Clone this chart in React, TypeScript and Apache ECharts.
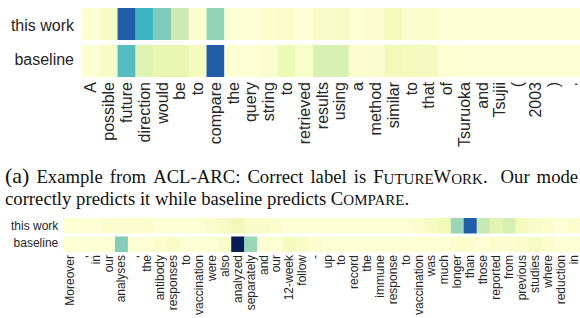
import React, { useEffect, useRef } from "react";
import * as echarts from "echarts";

const rowLabels = ["this work", "baseline"];

const topWords = ["A", "possible", "future", "direction", "would", "be", "to", "compare", "the", "query", "string", "to", "retrieved", "results", "using", "a", "method", "similar", "to", "that", "of", "Tsuruoka", "and", "Tsujii", "(", "2003", ")", "."];
const topThisWork = [0.02, 0.07, 0.75, 0.51, 0.38, 0.235, 0.03, 0.34, 0.02, 0.02, 0.03, 0.045, 0.015, 0.05, 0.055, 0.025, 0.03, 0.09, 0.045, 0.045, 0.02, 0.02, 0.02, 0.02, 0.02, 0.02, 0.02, 0.02];
const topBaseline = [0.02, 0.06, 0.46, 0.17, 0.14, 0.14, 0.08, 0.75, 0.02, 0.02, 0.03, 0.11, 0.04, 0.19, 0.19, 0.03, 0.035, 0.1, 0.09, 0.085, 0.025, 0.02, 0.02, 0.02, 0.02, 0.02, 0.02, 0.02];

const botWords = ["Moreover", ",", "in", "our", "analyses", ",", "the", "antibody", "responses", "to", "vaccination", "were", "also", "analyzed", "separately", "and", "our", "12-week", "follow", "-", "up", "to", "record", "the", "immune", "response", "to", "vaccination", "was", "much", "longer", "than", "those", "reported", "from", "previous", "studies", "where", "reduction", "in"];
const botThisWork = [0.02, 0.02, 0.01, 0.03, 0.03, 0.03, 0.03, 0.02, 0.02, 0.02, 0.02, 0.04, 0.06, 0.1, 0.05, 0.05, 0.03, 0.02, 0.02, 0.02, 0.02, 0.02, 0.02, 0.02, 0.02, 0.02, 0.02, 0.03, 0.07, 0.1, 0.33, 0.75, 0.25, 0.16, 0.2, 0.09, 0.05, 0.03, 0.02, 0.03];
const botBaseline = [0.02, 0.02, 0.02, 0.02, 0.37, 0.02, 0.02, 0.03, 0.05, 0.02, 0.02, 0.02, 0.05, 1.0, 0.33, 0.02, 0.02, 0.08, 0.05, 0.03, 0.02, 0.02, 0.02, 0.02, 0.02, 0.02, 0.02, 0.02, 0.02, 0.02, 0.03, 0.03, 0.02, 0.03, 0.03, 0.04, 0.06, 0.03, 0.02, 0.02];

const ylgnbu = ["#ffffd9", "#edf8b1", "#c7e9b4", "#7fcdbb", "#41b6c4", "#1d91c0", "#225ea8", "#253494", "#081d58"];

const SANS = "'Liberation Sans', Arial, Helvetica, sans-serif";
const SERIF = "'Liberation Serif', 'Times New Roman', serif";

function toCells(rows: number[][]) {
  const out: number[][] = [];
  rows.forEach((r, yi) => r.forEach((v, xi) => out.push([xi, yi, v])));
  return out;
}

function makeRender(gap: number) {
  return (params: any, api: any) => {
    const xi = api.value(0);
    const yi = api.value(1);
    const c = api.coord([xi, yi]);
    const s = api.size([1, 1]);
    const w = s[0];
    const h = s[1];
    let top = c[1] - h / 2;
    let bottom = c[1] + h / 2;
    if (yi === 0) bottom -= gap / 2;
    else top += gap / 2;
    return {
      type: "rect",
      shape: { x: c[0] - w / 2, y: top, width: w + 0.4, height: bottom - top },
      style: { fill: api.visual("color") },
    };
  };
}

export default function App() {
  const ref = useRef<HTMLDivElement>(null);
  useEffect(() => {
    if (!ref.current) return;
    const chart = echarts.init(ref.current, undefined, { renderer: "svg" });
    const txt = "#262626";
    const N = 18.7;
    const S = 15;
    const G = "{g| }";
    const line1 =
      "{a|(a)}" + G + "{n|Example}" + G + "{n|from}" + G + "{n|ACL-ARC:}" + G + "{n|Correct}" + G +
      "{n|label}" + G + "{n|is}" + G + "{n|F}{s|UTURE}{n|W}{s|ORK}{n|.}{p| }{n|Our}" + G + "{n|mode}";
    const option: any = {
      animation: false,
      grid: [
        { left: 82, top: 8, width: 501, height: 69 },
        { left: 63.3, top: 218, width: 518, height: 43 },
      ],
      xAxis: [
        {
          type: "category", gridIndex: 0, data: topWords,
          axisLine: { show: false }, axisTick: { show: false }, splitLine: { show: false },
          axisLabel: { rotate: 90, interval: 0, fontSize: 16, margin: 5, color: txt, fontFamily: SANS },
        },
        {
          type: "category", gridIndex: 1, data: botWords,
          axisLine: { show: false }, axisTick: { show: false }, splitLine: { show: false },
          axisLabel: { rotate: 90, interval: 0, fontSize: 12, margin: 3, color: txt, fontFamily: SANS },
        },
      ],
      yAxis: [
        {
          type: "category", gridIndex: 0, data: rowLabels, inverse: true,
          axisLine: { show: false }, axisTick: { show: false }, splitLine: { show: false },
          axisLabel: { fontSize: 16, margin: 8, color: txt, fontFamily: SANS },
        },
        {
          type: "category", gridIndex: 1, data: rowLabels, inverse: true,
          axisLine: { show: false }, axisTick: { show: false }, splitLine: { show: false },
          axisLabel: { fontSize: 12, margin: 5, color: txt, fontFamily: SANS },
        },
      ],
      visualMap: {
        show: false, type: "continuous", min: 0, max: 1, dimension: 2,
        seriesIndex: [0, 1], inRange: { color: ylgnbu },
      },
      series: [
        {
          type: "custom", xAxisIndex: 0, yAxisIndex: 0,
          data: toCells([topThisWork, topBaseline]),
          renderItem: makeRender(5),
          encode: { x: 0, y: 1 },
        },
        {
          type: "custom", xAxisIndex: 1, yAxisIndex: 1,
          data: toCells([botThisWork, botBaseline]),
          renderItem: makeRender(3),
          encode: { x: 0, y: 1 },
        },
      ],
      graphic: [
        {
          type: "text", x: 5, y: 164,
          style: {
            text: line1,
            fill: "#111",
            rich: {
              a: { fontSize: 22, fontFamily: SERIF, fill: "#111", verticalAlign: "bottom" },
              n: { fontSize: N, fontFamily: SERIF, fill: "#111", verticalAlign: "bottom" },
              s: { fontSize: S, fontFamily: SERIF, fill: "#111", verticalAlign: "bottom" },
              g: { fontSize: N, fontFamily: SERIF, width: 7.0, verticalAlign: "bottom" },
              p: { fontSize: N, fontFamily: SERIF, width: 13, verticalAlign: "bottom" },
            },
          },
        },
        {
          type: "text", x: 5, y: 188.5,
          style: {
            text: "{n|correctly predicts it while baseline predicts C}{s|OMPARE}{n|.}",
            fill: "#111",
            rich: {
              n: { fontSize: N, fontFamily: SERIF, fill: "#111", verticalAlign: "bottom" },
              s: { fontSize: S, fontFamily: SERIF, fill: "#111", verticalAlign: "bottom" },
            },
          },
        },
      ],
    };
    chart.setOption(option);
    return () => chart.dispose();
  }, []);
  return (
    <div
      ref={ref}
      style={{ position: "absolute", left: 0, top: 0, width: 580, height: 318, background: "#fff" }}
    />
  );
}
